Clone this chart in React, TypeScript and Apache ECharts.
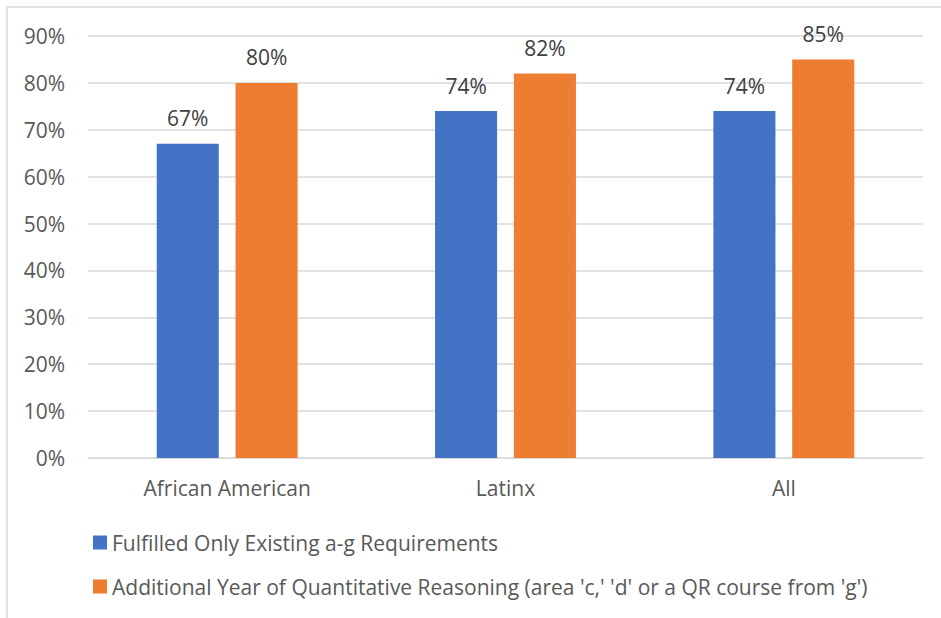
import React, { useEffect, useRef } from "react";
import * as echarts from "echarts";

const categories = ["African American", "Latinx", "All"];
const seriesNames = [
  "Fulfilled Only Existing a-g Requirements",
  "Additional Year of Quantitative Reasoning (area 'c,' 'd' or a QR course from 'g')",
];
const existingValues = [67, 74, 74];
const additionalValues = [80, 82, 85];

const FONT = "'Open Sans', 'Noto Sans', sans-serif";
const FS = 21;

export default function App() {
  const ref = useRef<HTMLDivElement>(null);
  useEffect(() => {
    document.body.style.margin = "0";
    const chart = echarts.init(ref.current!, null, { renderer: "svg" });
    const label = {
      show: true,
      position: "top",
      distance: 15,
      color: "#404040",
      fontSize: FS,
      fontFamily: FONT,
      formatter: (p: any) => p.value + "%",
    };
    chart.setOption({
      animation: false,
      backgroundColor: "#ffffff",
      textStyle: { fontFamily: FONT },
      graphic: [
        {
          type: "rect",
          shape: { x: 7, y: 7, width: 1200, height: 1200 },
          style: { fill: "none", stroke: "#d9d9d9", lineWidth: 1.5 },
          silent: true,
        },
      ],
      grid: { left: 88, right: 18, top: 36, bottom: 160, containLabel: false },
      xAxis: {
        type: "category",
        data: categories,
        axisLine: { lineStyle: { color: "#d9d9d9", width: 1.5 } },
        axisTick: { show: false },
        axisLabel: { color: "#595959", fontSize: FS, margin: 19, fontFamily: FONT },
      },
      yAxis: {
        type: "value",
        min: 0,
        max: 90,
        interval: 10,
        axisLine: { show: false },
        axisTick: { show: false },
        splitLine: { lineStyle: { color: "#d9d9d9", width: 1.5 } },
        axisLabel: {
          color: "#595959",
          fontSize: FS,
          margin: 23,
          fontFamily: FONT,
          formatter: (v: number) => v + "%",
        },
      },
      legend: {
        orient: "vertical",
        left: 93,
        top: 532,
        padding: 0,
        itemWidth: 14,
        itemHeight: 14,
        itemGap: 23,
        icon: "rect",
        textStyle: { color: "#595959", fontSize: FS, fontFamily: FONT },
        data: seriesNames,
      },
      series: [
        {
          name: seriesNames[0],
          type: "bar",
          data: existingValues,
          barWidth: "22.3%",
          barGap: "27%",
          itemStyle: { color: "#4472C4" },
          label,
        },
        {
          name: seriesNames[1],
          type: "bar",
          data: additionalValues,
          barWidth: "22.3%",
          barGap: "27%",
          itemStyle: { color: "#ED7D31" },
          label,
        },
      ],
    });
    return () => chart.dispose();
  }, []);
  return <div ref={ref} style={{ width: 941, height: 618 }} />;
}
